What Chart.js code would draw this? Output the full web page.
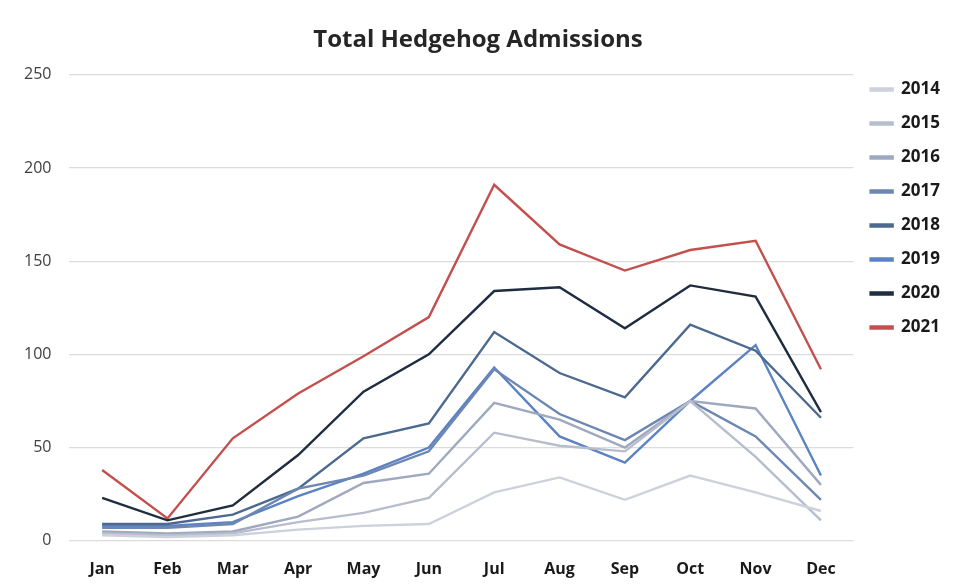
<!DOCTYPE html>
<html>
<head>
<meta charset="utf-8">
<script src="https://cdn.jsdelivr.net/npm/chart.js@4.4.1/dist/chart.umd.min.js"></script>
<style>
  html, body { margin: 0; padding: 0; background: #fff; }
  #wrap { width: 967px; height: 587px; position: relative; }
</style>
</head>
<body>
<div id="wrap"><canvas id="chart"></canvas></div>
<script>
// categories + series
const months = ["Jan","Feb","Mar","Apr","May","Jun","Jul","Aug","Sep","Oct","Nov","Dec"];
const yTicks = [0, 50, 100, 150, 200, 250];

const y2014 = [3, 2, 3, 6, 8, 9, 26, 34, 22, 35, 26, 16];
const y2015 = [4, 3, 4, 10, 15, 23, 58, 51, 48, 75, 45, 11];
const y2016 = [5, 4, 5, 13, 31, 36, 74, 65, 50, 75, 71, 30];
const y2017 = [7, 7, 9, 28, 35, 48, 92, 68, 54, 75, 56, 22];
const y2018 = [9, 9, 14, 28, 55, 63, 112, 90, 77, 116, 102, 66];
const y2019 = [8, 8, 10, 24, 36, 50, 93, 56, 42, 75, 105, 35];
const y2020 = [23, 11, 19, 46, 80, 100, 134, 136, 114, 137, 131, 69];
const y2021 = [38, 12, 55, 79, 99, 120, 191, 159, 145, 156, 161, 92];

const font = "'Open Sans', sans-serif";

const mk = (label, data, color) => ({
  label: label,
  data: data,
  borderColor: color,
  backgroundColor: color,
  borderWidth: 2.4,
  pointRadius: 0,
  tension: 0,
  fill: false
});

new Chart(document.getElementById("chart"), {
  type: "line",
  data: {
    labels: months,
    datasets: [
      mk("2014", y2014, "#cdd1db"),
      mk("2015", y2015, "#b6bdcc"),
      mk("2016", y2016, "#9ea8bf"),
      mk("2017", y2017, "#6d87b3"),
      mk("2018", y2018, "#4c6a90"),
      mk("2019", y2019, "#5b82c2"),
      mk("2020", y2020, "#1e2d40"),
      mk("2021", y2021, "#c4504e")
    ]
  },
  options: {
    responsive: true,
    maintainAspectRatio: false,
    animation: false,
    layout: { padding: { left: 6, right: 17, top: 8, bottom: -3 } },
    plugins: {
      title: {
        display: true,
        text: "Total Hedgehog Admissions",
        color: "#262626",
        font: { family: font, size: 24, weight: "bold" },
        padding: { top: 18, bottom: 20 }
      },
      legend: {
        position: "right",
        align: "start",
        title: {
          display: true,
          text: " ",
          font: { size: 10 },
          padding: { top: 32, bottom: 12 }
        },
        labels: {
          color: "#1a1a1a",
          font: { family: font, size: 17, weight: "bold" },
          boxWidth: 22,
          boxHeight: 2,
          padding: 17
        }
      },
      tooltip: { enabled: false }
    },
    scales: {
      x: {
        offset: true,
        grid: { display: false },
        border: { display: false },
        ticks: {
          color: "#1a1a1a",
          font: { family: font, size: 16, weight: "bold" },
          padding: 11
        }
      },
      y: {
        min: 0,
        max: 250,
        afterBuildTicks: (axis) => { axis.ticks = yTicks.map(v => ({ value: v })); },
        grid: { color: "#dcdcdc", lineWidth: 1.3, drawTicks: false },
        border: { display: false },
        ticks: {
          color: "#404040",
          font: { family: font, size: 16 },
          padding: 18
        }
      }
    }
  }
});
</script>
</body>
</html>
